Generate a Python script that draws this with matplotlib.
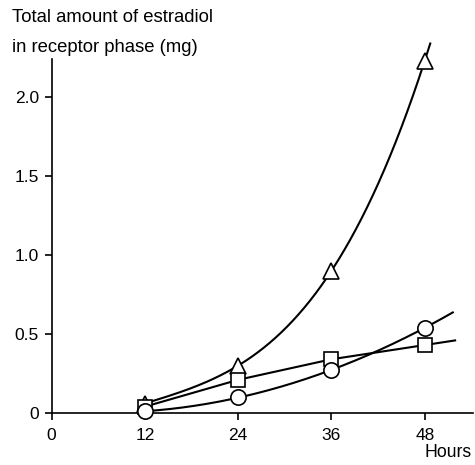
import matplotlib.pyplot as plt
import numpy as np

plt.rcParams['font.family'] = ['Liberation Sans', 'DejaVu Sans']

hours = [12, 24, 36, 48]
triangle = [0.06, 0.30, 0.90, 2.23]
square = [0.04, 0.21, 0.34, 0.43]
circle = [0.01, 0.10, 0.27, 0.54]

# how far each curve runs past the last point
tri_end = 48.7
sq_end = 51.9
circ_end = 51.6

xticks = [0, 12, 24, 36, 48]
yticks = [0, 0.5, 1.0, 1.5, 2.0]
ytick_labels = ["0", "0.5", "1.0", "1.5", "2.0"]

fig = plt.figure(figsize=(4.75, 4.65), dpi=100)
ax = fig.add_axes([51.5 / 475, 52 / 465, 421.5 / 475, 354 / 465])


def smooth(x, y, end, deg):
    coef = np.polyfit(x, y, deg)
    xs = np.linspace(x[0], end, 200)
    return xs, np.polyval(coef, xs)


def segments(x, y, end):
    # straight segments, last one carried on past the final point
    slope = (y[-1] - y[-2]) / (x[-1] - x[-2])
    return list(x) + [end], list(y) + [y[-1] + slope * (end - x[-1])]


tx, ty = smooth(hours, triangle, tri_end, 3)
cx, cy = smooth(hours, circle, circ_end, 2)
sx, sy = segments(hours, square, sq_end)

for xs, fit in [(tx, ty), (sx, sy), (cx, cy)]:
    ax.plot(xs, fit, color="black", lw=1.5, clip_on=False, zorder=2)

for ys, mk, ms in [(triangle, "^", 11), (square, "s", 10), (circle, "o", 11)]:
    ax.plot(hours, ys, linestyle="none", marker=mk, ms=ms, mfc="white",
            mec="black", mew=1.2, clip_on=False, zorder=3)

ax.set_xlim(0, 54.2)
ax.set_ylim(0, 2.24)
ax.spines["top"].set_visible(False)
ax.spines["right"].set_visible(False)
ax.spines["left"].set_linewidth(1.2)
ax.spines["bottom"].set_linewidth(1.2)

ax.set_xticks(xticks)
ax.set_yticks(yticks)
ax.set_yticklabels(ytick_labels)
ax.tick_params(axis="x", direction="out", length=5, width=1.2, pad=6, labelsize=12.5)
ax.tick_params(axis="y", direction="out", length=5, width=1.2, pad=4, labelsize=12.5)

fig.text(12 / 475, 1 - 17 / 465, "Total amount of estradiol", fontsize=13.3, va="center")
fig.text(12 / 475, 1 - 47 / 465, "in receptor phase (mg)", fontsize=13.3, va="center")
fig.text(472 / 475, 1 - 452 / 465, "Hours", fontsize=12.7, ha="right", va="center")

fig.savefig("out.png", dpi=100)
